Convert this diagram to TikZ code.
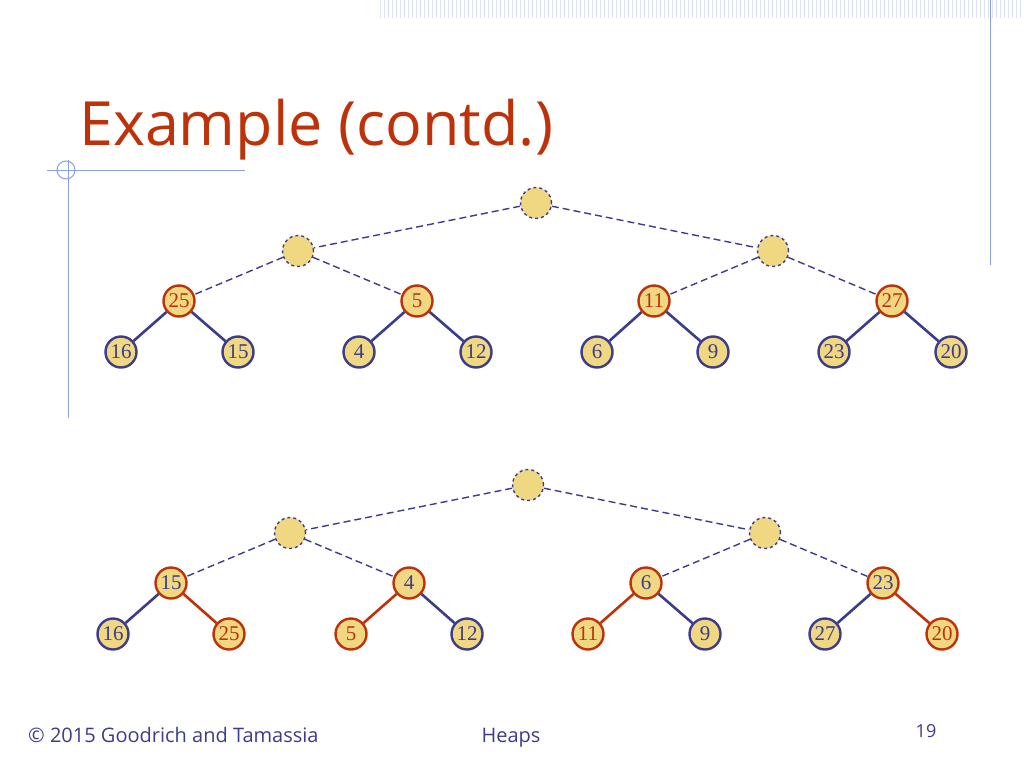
\documentclass[tikz,border=0pt]{standalone}
\usepackage{fontspec}
\setmainfont{Open Sans}
\newfontfamily\numfont{Liberation Serif}
\usetikzlibrary{calc}
\definecolor{heapfill}{RGB}{240,216,130}
\definecolor{heapblue}{RGB}{60,60,140}
\definecolor{heapred}{RGB}{190,50,10}
\definecolor{decoblue}{RGB}{140,160,230}
\tikzset{
  key/.style={circle, draw=heapblue, fill=heapfill, line width=2.4pt,
    minimum size=31pt, inner sep=0pt, font=\numfont\fontsize{21}{21}\selectfont, text=heapblue},
  redkey/.style={key, draw=heapred},
  redleaf/.style={redkey, text=heapred},
  empty/.style={key, dashed, line width=1.4pt},
  up/.style={draw=heapblue, dash pattern=on 7pt off 4pt, line width=1.4pt},
  edge/.style={draw=heapblue, line width=2.6pt},
  redge/.style={draw=heapred, line width=2.6pt},
}
\begin{document}
\begin{tikzpicture}[x=1pt,y=-1pt]
  \useasboundingbox (0,0) rectangle (1024,768);
% slide decoration
  \foreach \i in {380,384,...,1020}
    \draw[decoblue!30, line width=0.8pt] (\i,0) -- (\i,18);
  \draw[decoblue, line width=1pt] (990,0) -- (990,265);
  \draw[decoblue, line width=1pt] (68,160) -- (68,418);
  \draw[decoblue, line width=1pt] (47,170) -- (245,170);
  \draw[decoblue, line width=1pt] (66,170) circle (9);
  \node[anchor=base west, inner sep=0pt, text=heapred, font=\fontsize{61}{61}\selectfont] (title) at (79,145) {Example (contd.)};
% first tree
  \node[empty] (a) at (536,203) {};
  \node[empty] (a1) at (298,251) {};
  \node[empty] (a2) at (773,251) {};
  \node[redleaf] (a11) at (179,301) {25};
  \node[redleaf] (a12) at (417,301) {5};
  \node[redleaf] (a21) at (654,301) {11};
  \node[redleaf] (a22) at (892,301) {27};
  \foreach \x/\v/\p [count=\k] in {121/16/a11,238/15/a11,359/4/a12,476/12/a12,597/6/a21,713/9/a21,834/23/a22,951/20/a22}{
    \node[key] (al\k) at (\x,352) {\v};
    \draw[edge] (\p) -- (al\k);
  }
  \draw[up] (a) -- (a1) (a) -- (a2) (a1) -- (a11) (a1) -- (a12) (a2) -- (a21) (a2) -- (a22);
% second tree
  \node[empty] (b) at (528,485) {};
  \node[empty] (b1) at (290,533) {};
  \node[empty] (b2) at (765,533) {};
  \node[redkey] (b11) at (171,583) {15};
  \node[redkey] (b12) at (409,583) {4};
  \node[redkey] (b21) at (646,583) {6};
  \node[redkey] (b22) at (883,583) {23};
  \foreach \x/\v/\s [count=\k] in {113/16/key,229/25/redleaf,351/5/redleaf,467/12/key,588/11/redleaf,705/9/key,825/27/key,942/20/redleaf}
    \node[\s] (bl\k) at (\x,634) {\v};
  \draw[edge] (b11) -- (bl1) (b12) -- (bl4) (b21) -- (bl6) (b22) -- (bl7);
  \draw[redge] (b11) -- (bl2) (b12) -- (bl3) (b21) -- (bl5) (b22) -- (bl8);
  \draw[up] (b) -- (b1) (b) -- (b2) (b1) -- (b11) (b1) -- (b12) (b2) -- (b21) (b2) -- (b22);
% footer
  \node[anchor=base west, inner sep=0pt, text=heapblue, font=\fontsize{20}{20}\selectfont] (copy) at (28,742) {\textcopyright{} 2015 Goodrich and Tamassia};
  \node[anchor=base, inner sep=0pt, text=heapblue, font=\fontsize{20}{20}\selectfont] (topic) at (511,742) {Heaps};
  \node[anchor=base, inner sep=0pt, text=heapblue, font=\fontsize{18}{18}\selectfont] (page) at (926,737) {19};
\end{tikzpicture}
\end{document}
